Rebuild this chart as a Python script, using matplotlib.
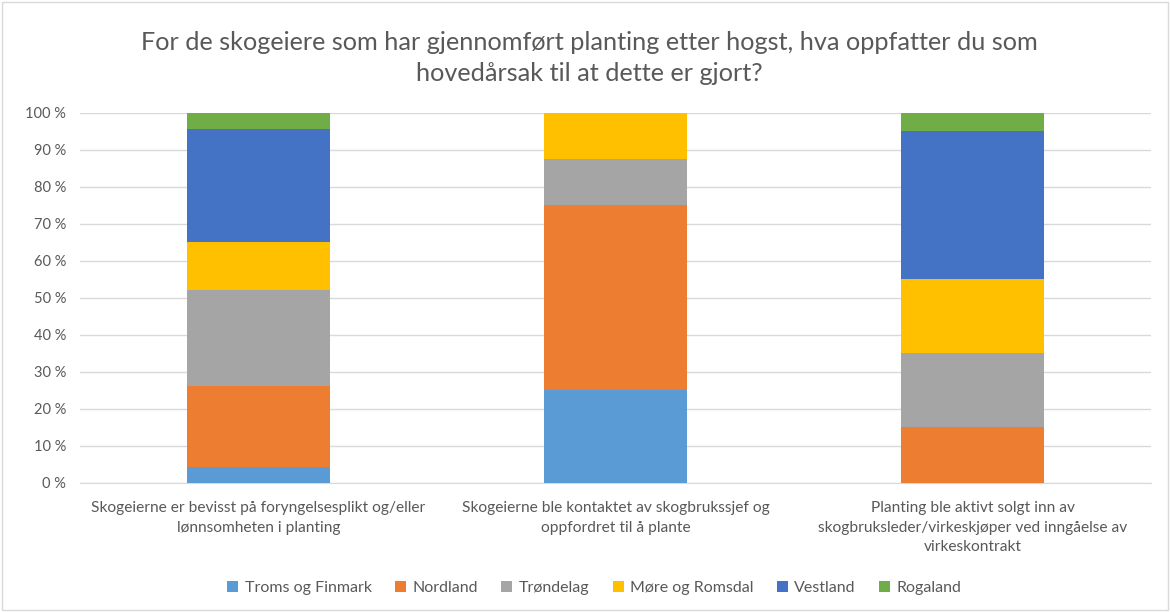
import matplotlib
matplotlib.use("Agg")
import matplotlib.pyplot as plt
from matplotlib.ticker import FuncFormatter
from matplotlib.patches import Rectangle
import numpy as np

plt.rcParams['font.family'] = ['Lato', 'DejaVu Sans']

categories = [
    "Skogeierne er bevisst på foryngelsesplikt og/eller\nlønnsomheten i planting",
    "Skogeierne ble kontaktet av skogbrukssjef og\noppfordret til å plante",
    "Planting ble aktivt solgt inn av\nskogbruksleder/virkeskjøper ved inngåelse av\nvirkeskontrakt",
]
series_names = ["Troms og Finmark", "Nordland", "Trøndelag", "Møre og Romsdal", "Vestland", "Rogaland"]
troms = [4.35, 25.0, 0.0]
nordland = [21.74, 50.0, 15.0]
trondelag = [26.09, 12.5, 20.0]
more = [13.04, 12.5, 20.0]
vestland = [30.43, 0.0, 40.0]
rogaland = [4.35, 0.0, 5.0]
colors = ["#5B9BD5", "#ED7D31", "#A5A5A5", "#FFC000", "#4472C4", "#70AD47"]
title = "For de skogeiere som har gjennomført planting etter hogst, hva oppfatter du som\nhovedårsak til at dette er gjort?"

values = [troms, nordland, trondelag, more, vestland, rogaland]

fig = plt.figure(figsize=(11.7, 6.12), dpi=100)
ax = fig.add_axes([0.0684, 0.2108, 0.9154, 0.6046])

x = np.arange(len(categories))
bottom = np.zeros(len(categories))
for name, vals, c in zip(series_names, values, colors):
    ax.bar(x, vals, bottom=bottom, width=0.4, color=c, label=name, zorder=3)
    bottom += np.array(vals)

ax.set_xlim(-0.5, 2.5)
ax.set_ylim(0, 100)
ax.set_yticks(np.arange(0, 101, 10))
ax.yaxis.set_major_formatter(FuncFormatter(lambda v, p: f"{int(v)} %"))
ax.grid(axis='y', color='#D9D9D9', linewidth=1, zorder=0)
for s in ['top', 'right', 'left']:
    ax.spines[s].set_visible(False)
ax.spines['bottom'].set_color('#D9D9D9')
ax.tick_params(axis='both', length=0, colors='#595959', labelsize=10.5)
ax.tick_params(axis='y', pad=10)
ax.tick_params(axis='x', pad=13)
ax.set_xticks(x)
ax.set_xticklabels(categories, fontsize=11.2, color='#595959', linespacing=1.5)

fig.text(0.504, 0.905, title, ha='center', va='center', fontsize=18.2, color='#595959', linespacing=1.4)

leg = fig.legend(loc='center', bbox_to_anchor=(0.508, 0.039), ncol=6, frameon=False,
                 fontsize=11.5, handlelength=0.7, handleheight=0.7, handletextpad=0.4,
                 columnspacing=1.45)
for t in leg.get_texts():
    t.set_color('#595959')

fig.patches.append(Rectangle((0.002, 0.003), 0.996, 0.994, transform=fig.transFigure,
                             fill=False, edgecolor='#D9D9D9', linewidth=1))

fig.savefig("out.png", dpi=100, facecolor='white')
